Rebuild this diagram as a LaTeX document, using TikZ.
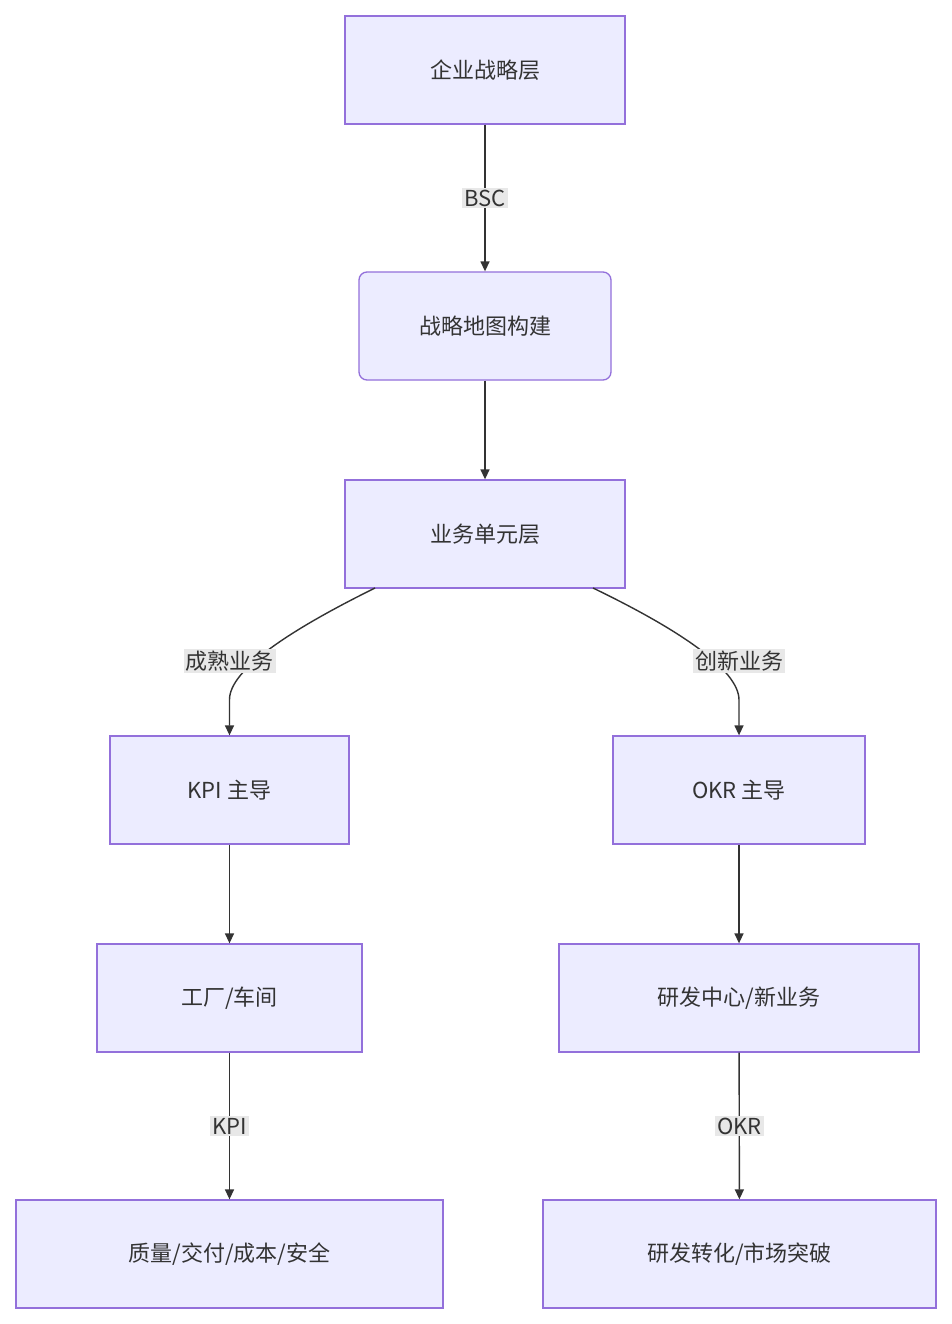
\documentclass[tikz,border=0pt]{standalone}
\usepackage{fontspec}
\setmainfont{Noto Sans CJK SC}
\usetikzlibrary{arrows.meta}
\definecolor{nfill}{HTML}{ECECFF}
\definecolor{nline}{HTML}{9370DB}
\definecolor{txt}{HTML}{333333}
\definecolor{lbl}{HTML}{E8E8E8}
\begin{document}
\begin{tikzpicture}[x=1pt,y=-1pt,
 box/.style={draw=nline,fill=nfill,line width=1.3pt,text=txt,font=\fontsize{22}{26}\selectfont,inner sep=0pt},
 edge/.style={draw=txt,line width=1.4pt,-{Triangle[length=10pt,width=9pt]}},
 el/.style={fill=lbl,text=txt,font=\fontsize{22}{26}\selectfont,inner sep=2pt}]
\path[use as bounding box,fill=white] (0,0) rectangle (951,1324);
\node[box,minimum width=280,minimum height=108] (A) at (485,70) {企业战略层};
\node[box,rounded corners=8pt,minimum width=252,minimum height=108] (B) at (485,326) {战略地图构建};
\node[box,minimum width=280,minimum height=108] (C) at (485,534) {业务单元层};
\node[box,minimum width=239,minimum height=108] (D) at (229.5,790) {KPI 主导};
\node[box,minimum width=252,minimum height=108] (E) at (739,790) {OKR 主导};
\node[box,minimum width=265,minimum height=108] (F) at (229.5,998) {工厂/车间};
\node[box,minimum width=360,minimum height=108] (G) at (739,998) {研发中心/新业务};
\node[box,minimum width=427,minimum height=108] (H) at (229.5,1254) {质量/交付/成本/安全};
\node[box,minimum width=393,minimum height=108] (I) at (739.5,1254) {研发转化/市场突破};
\draw[edge] (A) -- node[el]{BSC} (B);
\draw[edge] (B) -- (C);
\coordinate (c1) at (375,588);
\coordinate (c2) at (593,588);
\draw[edge] (c1) .. controls (290,630) and (229,670) .. (229.5,700) -- (D.north);
\draw[edge] (c2) .. controls (680,630) and (739,670) .. (739,700) -- (E.north);
\node[el] (l1) at (229.5,661) {成熟业务};
\node[el] (l2) at (739,661) {创新业务};
\draw[edge] (D) -- (F);
\draw[edge] (E) -- (G);
\draw[edge] (F) -- node[el]{KPI} (H);
\draw[edge] (G) -- node[el]{OKR} (I);
\end{tikzpicture}
\end{document}
